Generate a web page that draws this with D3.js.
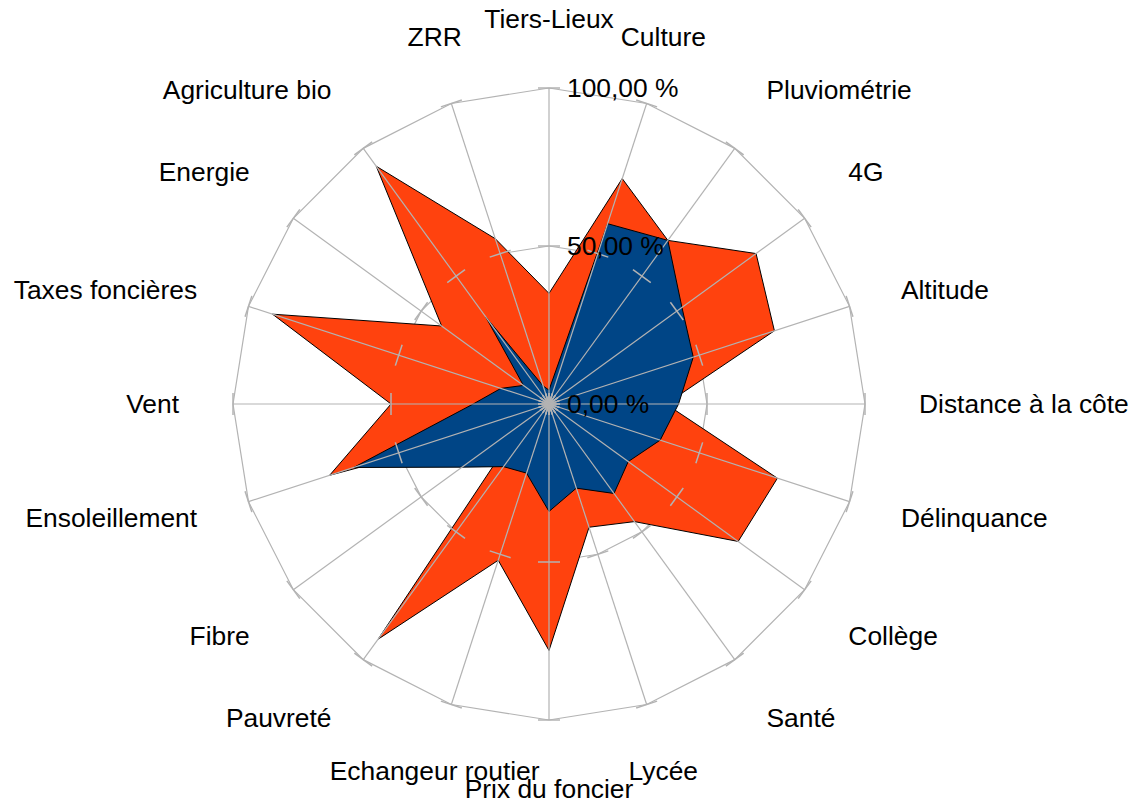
<!DOCTYPE html>
<html>
<head>
<meta charset="utf-8">
<script src="https://cdn.jsdelivr.net/npm/d3@7"></script>
<style>
  body { margin: 0; background: #fff; }
  text { font-family: "Liberation Sans", Arial, sans-serif; fill: #000; }
</style>
</head>
<body>
<svg id="chart" width="1134" height="805"></svg>
<script>
// radar chart, 20 axes, two series (orange behind, blue in front)

const axes = [
  "Tiers-Lieux", "Culture", "Pluviométrie", "4G", "Altitude",
  "Distance à la côte", "Délinquance", "Collège", "Santé", "Lycée",
  "Prix du foncier", "Echangeur routier", "Pauvreté", "Fibre", "Ensoleillement",
  "Vent", "Taxes foncières", "Energie", "Agriculture bio", "ZRR"
];

const orangeValues = [0.35, 0.75, 0.64, 0.81, 0.75, 0.37, 0.76, 0.74, 0.46, 0.41,
                      0.78, 0.52, 0.92, 0.11, 0.73, 0.50, 0.92, 0.42, 0.93, 0.55];

const blueValues = [0.044, 0.60, 0.64, 0.52, 0.48, 0.41, 0.37, 0.31, 0.35, 0.28,
                    0.34, 0.23, 0.245, 0.34, 0.65, 0.24, 0.16, 0.10, 0.34, 0.06];

const tickValues = [0, 0.5, 1];
const tickLabels = ["0,00 %", "50,00 %", "100,00 %"];

const cx = 549, cy = 404, R = 316;
const grey = "#b3b3b3";
const fontSize = 26.4;

const svg = d3.select("#chart");
const g = svg.append("g").attr("transform", `translate(${cx},${cy})`);

const rScale = d3.scaleLinear().domain([0, 1]).range([0, R]);
const angle = d3.scaleLinear().domain([0, axes.length]).range([0, 2 * Math.PI]);

const radial = d3.lineRadial()
  .angle((d, i) => angle(i))
  .radius(d => rScale(d))
  .curve(d3.curveLinearClosed);

// rings at 50% and 100%
[0.5, 1].forEach(v => {
  g.append("path")
    .attr("d", radial(axes.map(() => v)))
    .attr("fill", "none")
    .attr("stroke", grey)
    .attr("stroke-width", 1.2);
});

// series
g.append("path")
  .attr("d", radial(orangeValues))
  .attr("fill", "#ff420e")
  .attr("stroke", "#000").attr("stroke-width", 1)
  .attr("stroke-linejoin", "miter");

g.append("path")
  .attr("d", radial(blueValues))
  .attr("fill", "#004586")
  .attr("stroke", "#000").attr("stroke-width", 1)
  .attr("stroke-linejoin", "miter");

// spokes + ticks on top
const pt = (i, v) => {
  const a = angle(i);
  return [rScale(v) * Math.sin(a), -rScale(v) * Math.cos(a)];
};

axes.forEach((name, i) => {
  const [x1, y1] = pt(i, 1);
  g.append("line")
    .attr("x1", 0).attr("y1", 0).attr("x2", x1).attr("y2", y1)
    .attr("stroke", grey).attr("stroke-width", 1.2);

  const a = angle(i);
  const px = Math.cos(a) * 11, py = Math.sin(a) * 11;
  tickValues.forEach(v => {
    const [x, y] = pt(i, v);
    g.append("line")
      .attr("x1", x - px).attr("y1", y - py)
      .attr("x2", x + px).attr("y2", y + py)
      .attr("stroke", grey).attr("stroke-width", 1.5);
  });
});

// value labels along the top axis
tickValues.forEach((v, k) => {
  g.append("text")
    .attr("x", 18)
    .attr("y", -rScale(v))
    .attr("dy", "0.35em")
    .attr("font-size", fontSize)
    .text(tickLabels[k]);
});

// category labels
const labelR = R + 54;
axes.forEach((name, i) => {
  const a = angle(i);
  const s = Math.sin(a), c = Math.cos(a);
  const x = labelR * s, y = -labelR * c;
  let anchor = "middle";
  if (Math.abs(s) >= 0.4) anchor = s > 0 ? "start" : "end";
  let dy = 9;
  if (c > 0.5) dy = -6;
  else if (c < -0.5) dy = 24;
  g.append("text")
    .attr("x", x)
    .attr("y", y + dy)
    .attr("text-anchor", anchor)
    .attr("font-size", fontSize)
    .text(name);
});
</script>
</body>
</html>
